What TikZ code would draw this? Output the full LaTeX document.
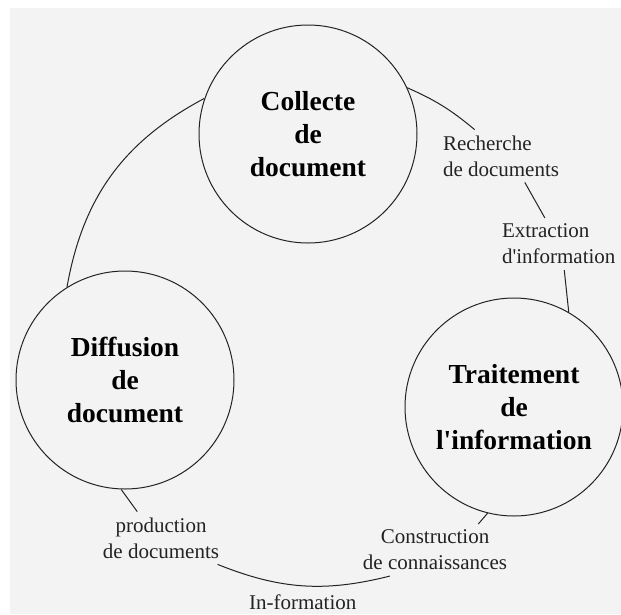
\documentclass[tikz,border=0pt]{standalone}
\usepackage{fontspec}
\setmainfont{Liberation Serif}
\definecolor{bggray}{RGB}{243,243,243}
\definecolor{inkgray}{RGB}{35,35,35}
\begin{document}
\begin{tikzpicture}
    [ x=1pt, y=-1pt
    , phase/.style={draw=inkgray,shape=circle,line width=1pt,minimum size=218pt,inner sep=0pt,align=center,font=\bfseries\fontsize{27.5}{33}\selectfont}
    , task/.style={inner sep=3pt,outer sep=3pt,text=inkgray,font=\fontsize{21}{26}\selectfont}
    , link/.style={draw=inkgray,line width=1pt}
    ]
    \useasboundingbox (0,0) rectangle (621,614);
    \fill [white]  (0,0)  rectangle (621,614);
    \fill [bggray] (10,8) rectangle (621,614);
    \node [phase] (collecte)   at (308,134) {Collecte\\de\\document};
    \node [phase] (diffusion)  at (125,380) {Diffusion\\de\\document};
    \node [phase] (traitement) at (514,407) {Traitement\\de\\l\textquotesingle information};
    \node [task, anchor=west, align=left] (recherche)  at (437,156) {Recherche\\de documents};
    \node [task, anchor=west, align=left] (extraction) at (496,244) {Extraction\\d\textquotesingle information};
    \node [task, align=center] (production)   at (161,538) {production\\de documents};
    \node [task, align=center] (construction) at (435,550) {Construction\\de connaissances};
    \draw [link] (collecte.25) to [bend left=8] (recherche.135);
    \draw [link] (recherche.-48) -- (extraction.118);
    \draw [link] (extraction.-78) -- (traitement.60);
    \draw [link] (traitement.256) -- (construction.31);
    \draw [link] (production.-25) to [bend right=18]
          node [task, below, yshift=-3pt] (informa) {In-formation} (construction.210);
    \draw [link] (diffusion.268) -- (production.132);
    \draw [link] (diffusion.122) to [bend left=26] (collecte.161);
\end{tikzpicture}
\end{document}
